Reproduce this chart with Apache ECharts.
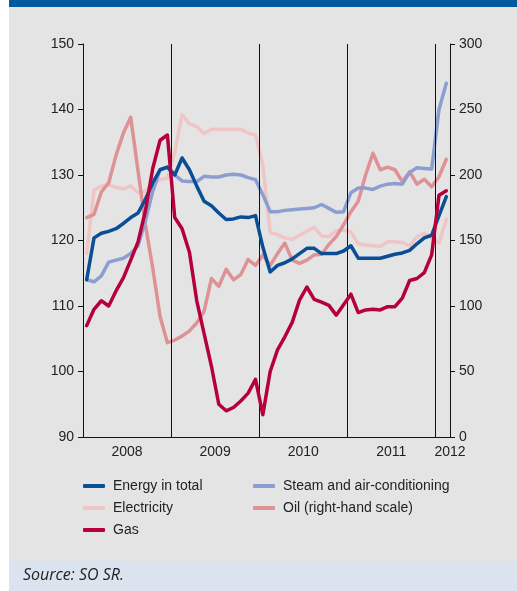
<!DOCTYPE html>
<html>
<head>
<meta charset="utf-8">
<script src="https://cdn.jsdelivr.net/npm/echarts@6/dist/echarts.min.js"></script>
<style>
html, body { margin: 0; padding: 0; background: #fff; }
#chart { width: 517px; height: 591px; }
</style>
</head>
<body>
<div id="chart"></div>
<script>
// monthly index values, Jan 2008 .. Feb 2012
var years = ['2008', '2009', '2010', '2011', '2012'];
var monthsPerYear = [12, 12, 12, 12, 2];

var energy = [114.0, 120.4, 121.1, 121.4, 121.8, 122.6, 123.5, 124.2, 126.3, 128.8, 130.8, 131.2,
    130.0, 132.6, 130.8, 128.3, 126.0, 125.3, 124.2, 123.2, 123.3, 123.6, 123.5, 123.8,
    119.0, 115.2, 116.2, 116.6, 117.2, 118.0, 118.8, 118.8, 118.0, 118.0, 118.0, 118.4,
    119.2, 117.3, 117.3, 117.3, 117.3, 117.6, 117.9, 118.1, 118.5, 119.5, 120.4, 120.8,
    123.8, 126.7];
var steam = [114.0, 113.7, 114.6, 116.7, 117.0, 117.3, 118.0, 119.2, 123.0, 127.5, 130.8, 131.2,
    130.0, 129.1, 129.0, 129.0, 129.8, 129.7, 129.7, 130.0, 130.1, 130.0, 129.6, 129.3,
    127.0, 124.4, 124.4, 124.6, 124.7, 124.8, 124.9, 125.0, 125.5, 124.9, 124.3, 124.4,
    127.3, 128.0, 128.0, 127.8, 128.3, 128.6, 128.7, 128.6, 130.4, 131.1, 131.0, 130.9,
    140.0, 144.0];
var electricity = [118.0, 127.7, 128.3, 128.5, 128.1, 127.9, 128.3, 127.3, 127.5, 128.5, 129.3, 129.5,
    133.5, 139.2, 137.8, 137.4, 136.3, 137.0, 137.0, 137.0, 137.0, 137.0, 136.4, 136.1,
    131.5, 121.2, 120.9, 120.4, 120.2, 120.8, 121.4, 122.0, 120.7, 120.6, 121.5, 121.6,
    121.3, 119.5, 119.3, 119.2, 119.1, 119.8, 119.8, 119.7, 119.2, 120.6, 121.1, 120.4,
    119.6, 123.2];
var gas = [107.0, 109.5, 110.8, 110.0, 112.3, 114.3, 117.0, 119.8, 124.5, 131.0, 135.3, 136.1,
    123.5, 121.8, 118.2, 110.8, 105.8, 100.8, 95.0, 94.0, 94.5, 95.5, 96.7, 98.8,
    93.4, 100.0, 103.3, 105.3, 107.5, 110.9, 112.9, 111.0, 110.6, 110.1, 108.6, 110.2,
    111.8, 109.0, 109.4, 109.5, 109.4, 109.9, 109.9, 111.2, 113.9, 114.2, 115.1, 117.8,
    126.9, 127.6];
// right-hand scale
var oil = [167.5, 170.0, 187.0, 194.0, 215.0, 232.0, 244.0, 203.0, 162.0, 129.0, 92.0, 72.0,
    74.0, 77.0, 81.0, 87.0, 96.0, 121.0, 115.0, 128.0, 120.0, 124.0, 135.5, 131.0,
    139.0, 131.0, 140.0, 148.0, 135.0, 132.6, 135.0, 139.0, 139.5, 147.0, 153.0, 162.0,
    172.0, 180.0, 200.0, 216.6, 204.0, 206.0, 204.0, 195.0, 202.5, 193.0, 196.7, 191.0,
    198.7, 212.0];

var leftTicks = { min: 90, max: 150, step: 10 };
var rightTicks = { min: 0, max: 300, step: 50 };

// put each month in the middle of its slot on the x axis
function pairs(arr) {
    return arr.map(function (v, i) { return [i + 0.5, v]; });
}

var nMonths = monthsPerYear.reduce(function (a, b) { return a + b; }, 0);
var yearStarts = [];
var labelPos = [];
var acc = 0;
monthsPerYear.forEach(function (m) {
    yearStarts.push(acc);
    labelPos.push(m === 12 ? acc + 6 : nMonths);
    acc += m;
});

var font = '"Liberation Sans", Arial, sans-serif';

var myChart = echarts.init(document.getElementById('chart'));

function lineSeries(name, data, color, z, axis) {
    return {
        name: name,
        type: 'line',
        yAxisIndex: axis || 0,
        data: pairs(data),
        symbol: 'none',
        z: z,
        lineStyle: { color: color, width: 3.5, cap: 'round', join: 'round' },
        itemStyle: { color: color },
        silent: true
    };
}

var series = [
    lineSeries('Electricity', electricity, '#f0c5c5', 2),
    lineSeries('Oil (right-hand scale)', oil, '#de9296', 3, 1),
    lineSeries('Steam and air-conditioning', steam, '#8a9fd0', 4),
    lineSeries('Energy in total', energy, '#0a4f96', 5),
    lineSeries('Gas', gas, '#b5003d', 6)
];
series[0].markLine = {
    silent: true,
    symbol: 'none',
    label: { show: false },
    lineStyle: { color: '#111', width: 1, type: 'solid' },
    data: yearStarts.slice(1).map(function (s) { return { xAxis: s }; })
};

var legendText = { color: '#222', fontSize: 14, fontFamily: font, padding: [0, 0, 0, 3] };

var option = {
    backgroundColor: '#fff',
    animation: false,
    graphic: [
        { type: 'rect', z: -10, shape: { x: 9, y: 0, width: 508, height: 561 }, style: { fill: '#e4e4e4' } },
        { type: 'rect', z: -10, shape: { x: 9, y: 0, width: 508, height: 7 }, style: { fill: '#005a9e' } },
        { type: 'rect', z: -10, shape: { x: 9, y: 561, width: 508, height: 30 }, style: { fill: '#dbe4ee' } },
        {
            type: 'text', left: 23, top: 567,
            style: { text: 'Source: SO SR.', fill: '#222', font: 'italic 16px "Open Sans", "Liberation Sans", sans-serif' }
        }
    ],
    grid: { left: 83, right: 67, top: 44, bottom: 154 },
    legend: [
        {
            left: 83, top: 479, orient: 'vertical', itemGap: 8, padding: 0,
            itemWidth: 22, itemHeight: 4, icon: 'roundRect',
            textStyle: legendText,
            data: ['Energy in total', 'Electricity', 'Gas']
        },
        {
            left: 253, top: 479, orient: 'vertical', itemGap: 8, padding: 0,
            itemWidth: 22, itemHeight: 4, icon: 'roundRect',
            textStyle: legendText,
            data: ['Steam and air-conditioning', 'Oil (right-hand scale)']
        }
    ],
    xAxis: {
        type: 'value',
        min: 0,
        max: nMonths,
        splitLine: { show: false },
        axisLine: { lineStyle: { color: '#111', width: 1 } },
        axisTick: { show: false },
        axisLabel: {
            customValues: labelPos,
            color: '#222', fontSize: 14, fontFamily: font, margin: 8,
            formatter: function (v) {
                var idx = labelPos.indexOf(v);
                return idx >= 0 ? years[idx] : '';
            }
        }
    },
    yAxis: [
        {
            type: 'value',
            min: leftTicks.min, max: leftTicks.max, interval: leftTicks.step,
            splitLine: { show: false },
            axisLine: { show: true, lineStyle: { color: '#111' } },
            axisTick: { show: true, length: 5, lineStyle: { color: '#111' } },
            axisLabel: { color: '#222', fontSize: 14, fontFamily: font, margin: 9 }
        },
        {
            type: 'value',
            position: 'right',
            min: rightTicks.min, max: rightTicks.max, interval: rightTicks.step,
            splitLine: { show: false },
            axisLine: { show: true, lineStyle: { color: '#111' } },
            axisTick: { show: true, length: 5, lineStyle: { color: '#111' } },
            axisLabel: { color: '#222', fontSize: 14, fontFamily: font, margin: 9 }
        }
    ],
    series: series
};

myChart.setOption(option);
</script>
</body>
</html>
